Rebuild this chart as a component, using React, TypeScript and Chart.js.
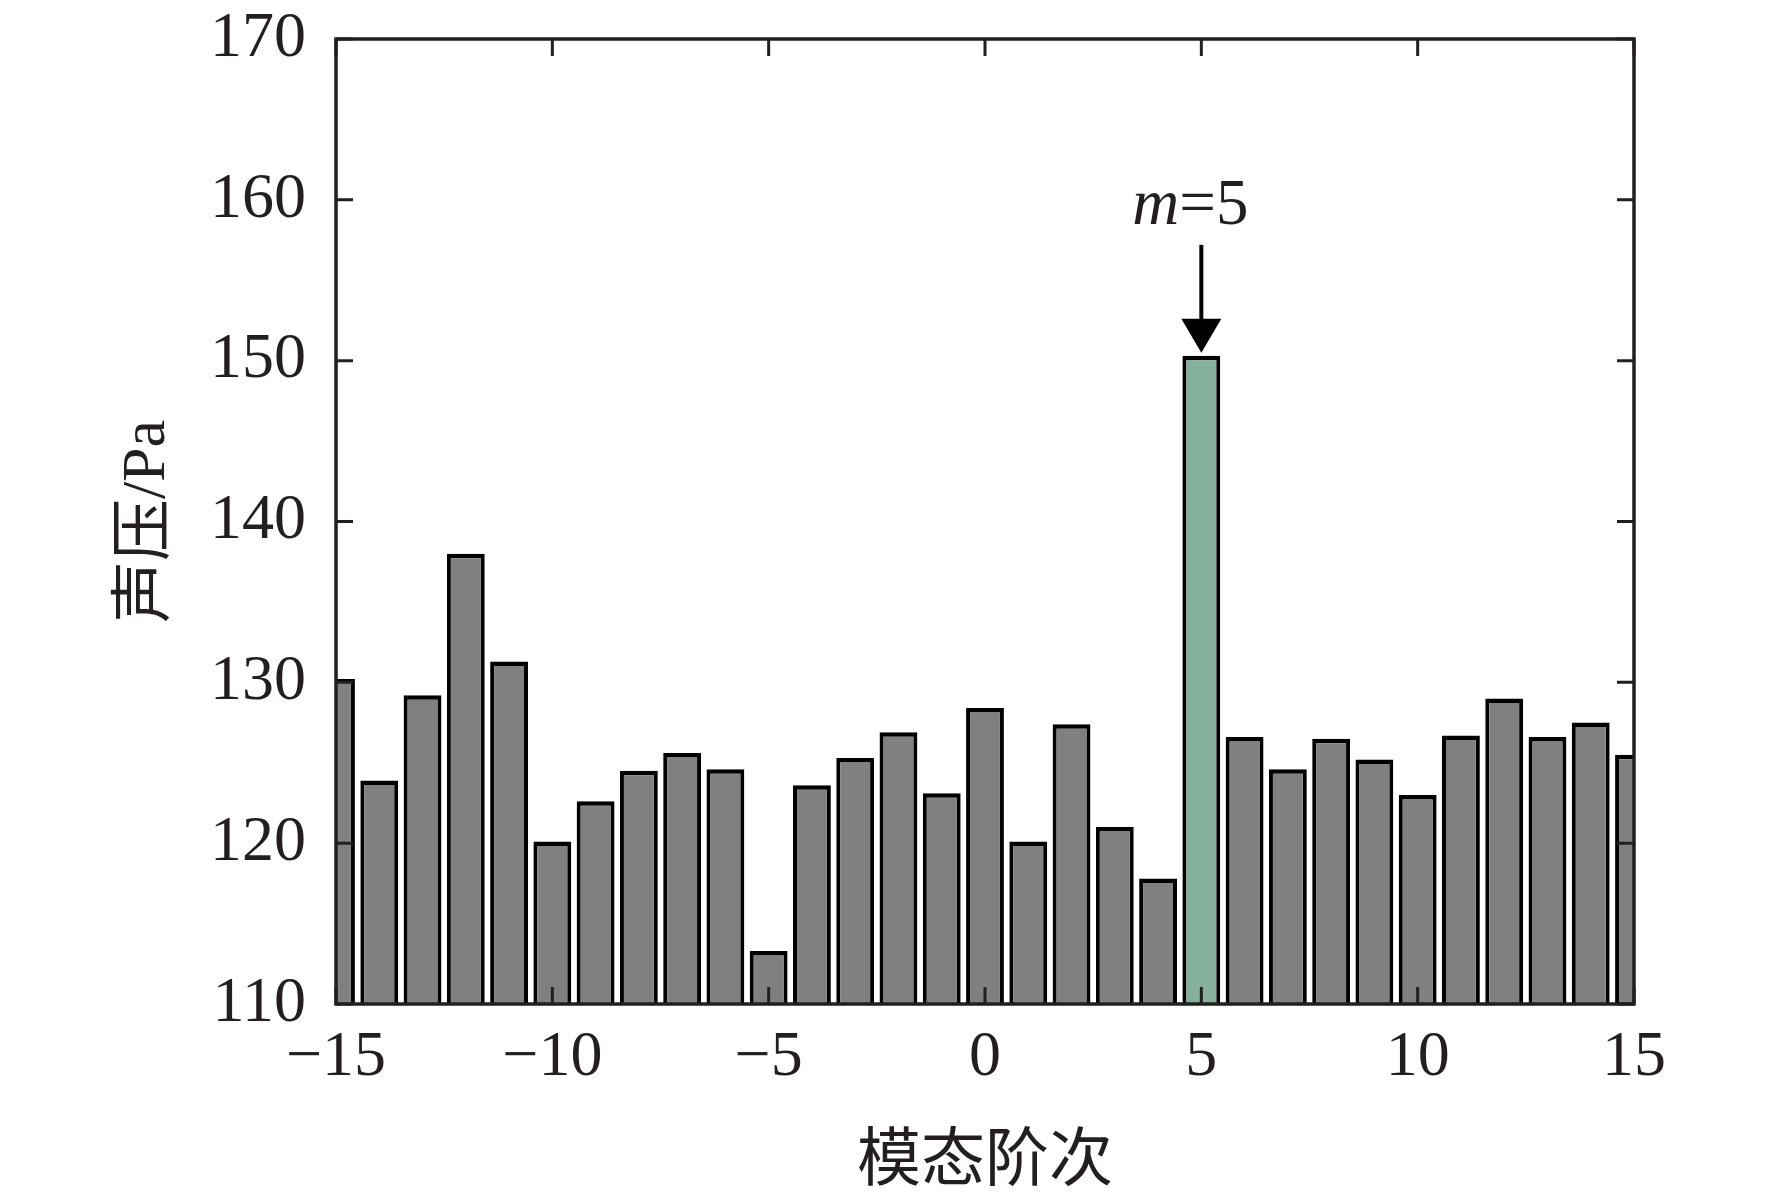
import { useEffect, useRef } from "react";
import { Chart, registerables } from "chart.js";

Chart.register(...registerables);

//  Data

// mode order m, -15 … 15
const MODE_ORDERS = [
  -15, -14, -13, -12, -11, -10, -9, -8, -7, -6, -5, -4, -3, -2, -1, 0, 1, 2,
  3, 4, 5, 6, 7, 8, 9, 10, 11, 12, 13, 14, 15,
];

// sound pressure, Pa
const SOUND_PRESSURE = [
  130.2, 123.9, 129.2, 138.0, 131.3, 120.1, 122.6, 124.5, 125.6, 124.6, 113.3,
  123.6, 125.3, 126.9, 123.1, 128.4, 120.1, 127.4, 121.0, 117.8, 150.3, 126.6,
  124.6, 126.5, 125.2, 123.0, 126.7, 129.0, 126.6, 127.5, 125.5,
];

const X_TICKS = [-15, -10, -5, 0, 5, 10, 15];
const Y_TICKS = [110, 120, 130, 140, 150, 160, 170];

const HIGHLIGHT_ORDER = 5;
const NOTE_TEXT_VALUE = 158.5; // baseline of "m=5"
const ARROW_FROM = 157.2;
const ARROW_TO = 150.5;

//  Styles

const INK = "#231f20";
const BAR_GRAY = "#808080";
const BAR_GREEN = "#85b09b";
const SERIF = "'Liberation Serif', 'Noto Sans CJK SC', serif";

const fmtTick = (v: number) => (v < 0 ? `\u2212${Math.abs(v)}` : String(v));

//  Plugins

const framePlugin = {
  id: "frame",
  afterDatasetsDraw(chart: Chart) {
    const { ctx, chartArea: a, scales } = chart;
    const x = scales.x;
    const y = scales.y;
    const len = 17;
    ctx.save();
    ctx.strokeStyle = INK;
    ctx.lineWidth = 3;
    ctx.beginPath();
    X_TICKS.forEach((t) => {
      const px = x.getPixelForValue(t);
      ctx.moveTo(px, a.bottom);
      ctx.lineTo(px, a.bottom - len);
      ctx.moveTo(px, a.top);
      ctx.lineTo(px, a.top + len);
    });
    Y_TICKS.forEach((t) => {
      const py = y.getPixelForValue(t);
      ctx.moveTo(a.left, py);
      ctx.lineTo(a.left + len, py);
      ctx.moveTo(a.right, py);
      ctx.lineTo(a.right - len, py);
    });
    ctx.stroke();
    ctx.lineWidth = 3.5;
    ctx.strokeRect(a.left, a.top, a.right - a.left, a.bottom - a.top);
    ctx.restore();
  },
};

const notePlugin = {
  id: "note",
  afterDatasetsDraw(chart: Chart) {
    const { ctx, scales } = chart;
    const px = scales.x.getPixelForValue(HIGHLIGHT_ORDER);
    const yText = scales.y.getPixelForValue(NOTE_TEXT_VALUE);
    const yFrom = scales.y.getPixelForValue(ARROW_FROM);
    const yTip = scales.y.getPixelForValue(ARROW_TO);
    const headH = 34;
    const headW = 20;

    ctx.save();
    // arrow
    ctx.strokeStyle = "#000";
    ctx.fillStyle = "#000";
    ctx.lineWidth = 4;
    ctx.beginPath();
    ctx.moveTo(px, yFrom);
    ctx.lineTo(px, yTip - headH + 2);
    ctx.stroke();
    ctx.beginPath();
    ctx.moveTo(px - headW, yTip - headH);
    ctx.lineTo(px + headW, yTip - headH);
    ctx.lineTo(px, yTip);
    ctx.closePath();
    ctx.fill();

    // label "m=5"
    ctx.textBaseline = "alphabetic";
    ctx.textAlign = "left";
    const italic = `italic 65px ${SERIF}`;
    const normal = `65px ${SERIF}`;
    ctx.font = italic;
    const wM = ctx.measureText("m").width;
    ctx.font = normal;
    const rest = `=${HIGHLIGHT_ORDER}`;
    const wR = ctx.measureText(rest).width;
    const x0 = px - (wM + wR) / 2 - 11;
    ctx.fillStyle = INK;
    ctx.font = italic;
    ctx.fillText("m", x0, yText);
    ctx.font = normal;
    ctx.fillText(rest, x0 + wM, yText);
    ctx.restore();
  },
};

//  Component

export default function App() {
  const canvasRef = useRef<HTMLCanvasElement>(null);

  useEffect(() => {
    document.body.style.margin = "0";
    if (!canvasRef.current) return;

    const chart = new Chart(canvasRef.current, {
      type: "bar",
      data: {
        datasets: [
          {
            label: "声压",
            data: MODE_ORDERS.map((m, i) => ({ x: m, y: SOUND_PRESSURE[i] })),
            backgroundColor: MODE_ORDERS.map((m) =>
              m === HIGHLIGHT_ORDER ? BAR_GREEN : BAR_GRAY,
            ),
            borderColor: "#000",
            borderWidth: { top: 4.5, left: 4, right: 4, bottom: 0 },
            borderSkipped: "bottom",
            barPercentage: 0.875,
            categoryPercentage: 1,
            clip: 0,
          },
        ],
      },
      options: {
        responsive: true,
        maintainAspectRatio: false,
        animation: false,
        layout: { padding: { top: 39, right: 138, left: 0, bottom: 0 } },
        plugins: {
          legend: { display: false },
          tooltip: { enabled: false },
        },
        scales: {
          x: {
            type: "linear",
            min: -15,
            max: 15,
            offset: false,
            grid: { display: false, drawTicks: false },
            border: { display: false },
            ticks: {
              stepSize: 5,
              padding: 16,
              color: INK,
              font: { family: SERIF, size: 64 },
              maxRotation: 0,
              callback: (v) => fmtTick(Number(v)),
            },
            title: {
              display: true,
              text: "模态阶次",
              color: INK,
              font: { family: SERIF, size: 64, lineHeight: 0.9 },
              padding: { top: 0, bottom: 0 },
            },
            afterFit: (scale) => {
              scale.height = 188;
            },
          },
          y: {
            min: 110,
            max: 170,
            grid: { display: false, drawTicks: false },
            border: { display: false },
            ticks: {
              stepSize: 10,
              padding: 30,
              color: INK,
              // small line height keeps the top label from pushing the plot down
              font: { family: SERIF, size: 64, lineHeight: 0.2 },
            },
            title: {
              display: true,
              text: "声压/Pa",
              color: INK,
              font: { family: SERIF, size: 62 },
              padding: { top: 111, bottom: 0 },
            },
            afterFit: (scale) => {
              scale.width = 336;
            },
          },
        },
      },
      plugins: [framePlugin, notePlugin],
    });

    return () => chart.destroy();
  }, []);

  return (
    <div
      style={{
        width: "1772px",
        height: "1192px",
        position: "relative",
        background: "#fff",
      }}
    >
      <canvas
        ref={canvasRef}
        role="img"
        aria-label="各模态阶次的声压柱状图，m=5 处达到峰值约 150 Pa"
      />
    </div>
  );
}
